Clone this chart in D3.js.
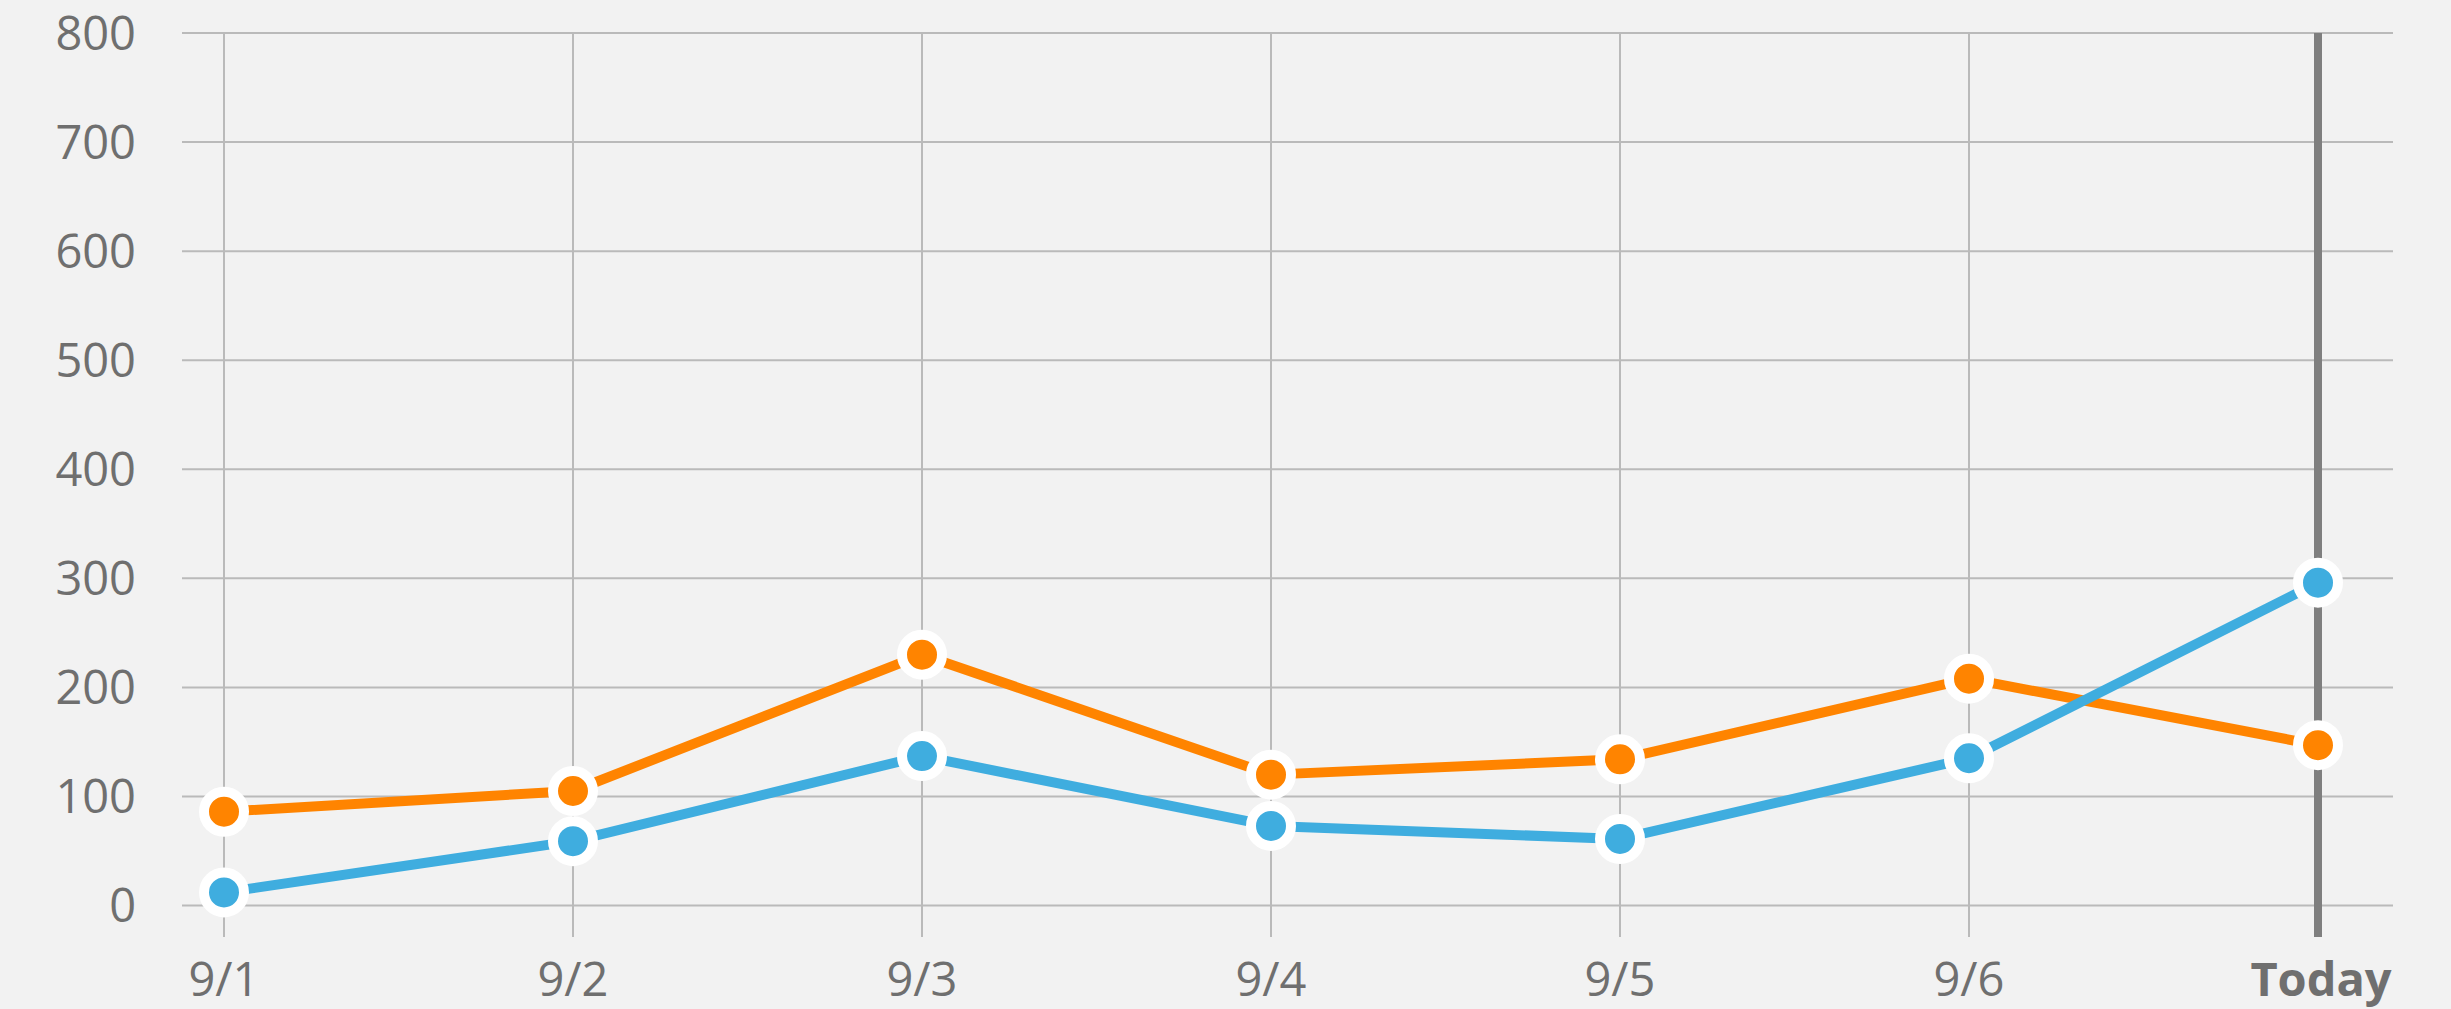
<!DOCTYPE html>
<meta charset="utf-8">
<style>
  body { margin: 0; background: #f2f2f2; }
</style>
<svg width="2451" height="1009" font-family="'Open Sans', sans-serif"></svg>
<script src="https://cdn.jsdelivr.net/npm/d3@7"></script>
<script>

var days = ["9/1", "9/2", "9/3", "9/4", "9/5", "9/6", "Today"];
var orangeValues = [86, 105, 230, 120, 134, 208, 147];
var blueValues = [12, 59, 137, 73, 61, 135, 296];
var yTicks = [0, 100, 200, 300, 400, 500, 600, 700, 800];

var svg = d3.select("svg"),
    width = +svg.attr("width"),
    height = +svg.attr("height");

svg.append("rect").attr("width", width).attr("height", height).attr("fill", "#f2f2f2");

var x = d3.scalePoint()
    .domain(days)
    .range([224, 2318]);

var y = d3.scaleLinear()
    .domain([0, 800])
    .range([905.5, 33]);

var gridLeft = 182, gridRight = 2393;

// horizontal grid
svg.append("g")
  .selectAll("line")
  .data(yTicks)
  .enter().append("line")
    .attr("x1", gridLeft)
    .attr("x2", gridRight)
    .attr("y1", y)
    .attr("y2", y)
    .attr("stroke", "#bababa")
    .attr("stroke-width", 2);

// vertical grid
svg.append("g")
  .selectAll("line")
  .data(days.slice(0, -1))
  .enter().append("line")
    .attr("x1", x)
    .attr("x2", x)
    .attr("y1", y(800))
    .attr("y2", 937)
    .attr("stroke", "#bababa")
    .attr("stroke-width", 2);

// today marker
svg.append("line")
    .attr("x1", x("Today"))
    .attr("x2", x("Today"))
    .attr("y1", y(800))
    .attr("y2", 937)
    .attr("stroke", "#7f7f7f")
    .attr("stroke-width", 8);

// y labels
svg.append("g")
    .attr("text-anchor", "end")
    .attr("fill", "#6f6f6f")
    .attr("font-size", 47)
  .selectAll("text")
  .data(yTicks)
  .enter().append("text")
    .attr("x", 136)
    .attr("y", y)
    .attr("dy", "0.36em")
    .text(function(d) { return d; });

// x labels
svg.append("g")
    .attr("text-anchor", "middle")
    .attr("fill", "#6f6f6f")
    .attr("font-size", 47)
  .selectAll("text")
  .data(days)
  .enter().append("text")
    .attr("x", function(d) { return d === "Today" ? x(d) + 3 : x(d); })
    .attr("y", 996)
    .attr("font-weight", function(d) { return d === "Today" ? "bold" : "normal"; })
    .text(function(d) { return d; });

var series = [
  { name: "orange", color: "#ff8400", values: orangeValues },
  { name: "blue", color: "#3faddf", values: blueValues }
];

var line = d3.line()
    .x(function(d, i) { return x(days[i]); })
    .y(function(d) { return y(d); });

series.forEach(function(s) {
  svg.append("path")
      .attr("d", line(s.values))
      .attr("fill", "none")
      .attr("stroke", s.color)
      .attr("stroke-width", 10)
      .attr("stroke-linejoin", "round");
});

series.forEach(function(s) {
  svg.append("g")
    .selectAll("circle")
    .data(s.values)
    .enter().append("circle")
      .attr("cx", function(d, i) { return x(days[i]); })
      .attr("cy", y)
      .attr("r", 20)
      .attr("fill", s.color)
      .attr("stroke", "#fff")
      .attr("stroke-width", 10);
});

</script>
